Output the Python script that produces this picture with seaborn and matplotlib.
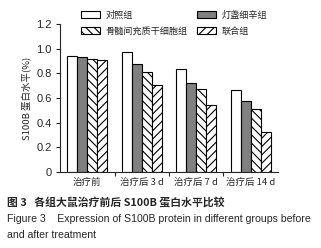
import pandas as pd
import matplotlib
matplotlib.use("Agg")
import matplotlib.pyplot as plt
import matplotlib.patches as mpatches
from matplotlib.ticker import FuncFormatter, FixedLocator
import seaborn as sns

# data
times = ["治疗前", "治疗后 3 d", "治疗后 7 d", "治疗后 14 d"]
groups = ["对照组", "灯盏细辛组", "骨髓间充质干细胞组", "联合组"]
control = [0.94, 0.97, 0.835, 0.665]
erigeron = [0.93, 0.88, 0.72, 0.575]
bmsc = [0.92, 0.81, 0.67, 0.51]
combined = [0.905, 0.71, 0.54, 0.325]

df = pd.DataFrame({
    "time": times * 4,
    "group": [g for g in groups for _ in times],
    "value": control + erigeron + bmsc + combined,
})

sns.set_style("ticks")
plt.rcParams["font.family"] = ["Noto Sans CJK SC", "DejaVu Sans"]
plt.rcParams["hatch.linewidth"] = 0.8

fig = plt.figure(figsize=(3.21, 2.48), dpi=100)
ax = fig.add_axes([0.187, 0.306, 0.679, 0.597])

colors = ["white", "#808080", "white", "white"]
hatches = ["", "", "\\\\\\\\", "////"]

sns.barplot(data=df, x="time", y="value", hue="group", order=times,
            hue_order=groups, palette=colors, width=0.74, edgecolor="black",
            linewidth=0.8, legend=False, ax=ax)

for cont, h in zip(ax.containers, hatches):
    for bar in cont:
        bar.set_hatch(h)

ax.set_xlim(-0.5, 3.5)
ax.set_ylim(0, 1.2)
ax.set_yticks([0, 0.2, 0.4, 0.6, 0.8, 1.0, 1.2])
ax.yaxis.set_major_formatter(FuncFormatter(lambda v, p: "0" if v == 0 else f"{v:.1f}"))
ax.tick_params(axis="y", labelsize=8, length=3, width=0.8, pad=3,
               labelfontfamily="Liberation Sans")
ax.tick_params(axis="x", which="major", length=0, labelsize=6.8, pad=4)
ax.xaxis.set_minor_locator(FixedLocator([0.5, 1.5, 2.5]))
ax.tick_params(axis="x", which="minor", length=3, width=0.8)
for lab in ax.get_xticklabels():
    lab.set_style("italic")
ax.set_xlabel("")
ax.set_ylabel("S100B 蛋白水平(%)", fontsize=6.8, labelpad=3)
sns.despine(ax=ax)
for s in ["left", "bottom"]:
    ax.spines[s].set_linewidth(0.8)

handles = [mpatches.Patch(facecolor=c, edgecolor="black", hatch=h, linewidth=0.8, label=g)
           for c, h, g in zip(colors, hatches, groups)]
# order so columns read: row1 对照组 | 灯盏细辛组 ; row2 骨髓... | 联合组
leg = fig.legend(handles=[handles[0], handles[2], handles[1], handles[3]],
                 loc="upper left", bbox_to_anchor=(0.235, 0.98), ncol=2,
                 frameon=False, fontsize=6.6, handlelength=2.1, handleheight=0.8,
                 handletextpad=0.6, columnspacing=1.0, labelspacing=0.8,
                 borderaxespad=0.2)

fig.text(0.022, 0.181, "图 3   各组大鼠治疗前后 S100B 蛋白水平比较", fontsize=7.8,
         fontweight="bold", va="center")
fig.text(0.022, 0.117, "Figure 3    Expression of S100B protein in different groups before",
         fontsize=7.6, family="Liberation Sans", va="center")
fig.text(0.022, 0.052, "and after treatment", fontsize=7.6,
         family="Liberation Sans", va="center")

fig.savefig("out.png", dpi=100)
